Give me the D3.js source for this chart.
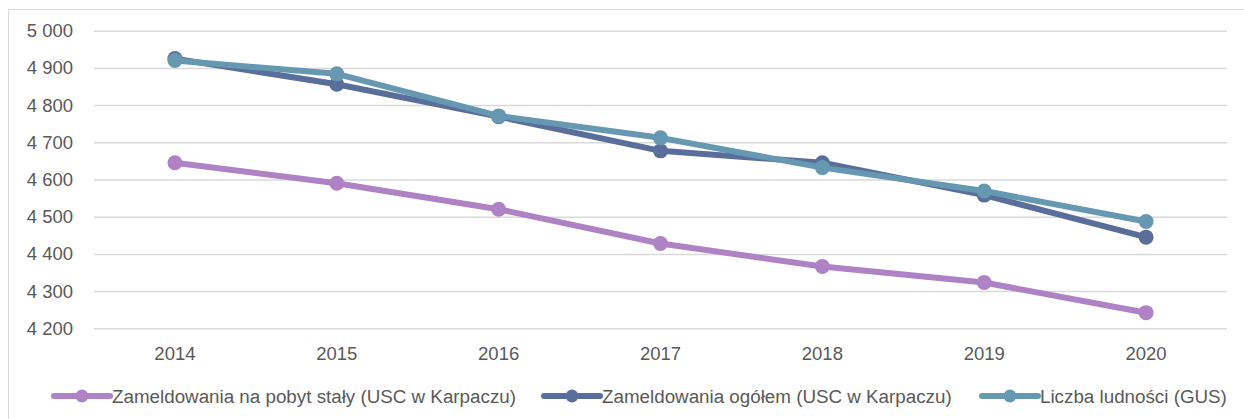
<!DOCTYPE html>
<html><head><meta charset="utf-8">
<script src="https://cdn.jsdelivr.net/npm/d3@7"></script>
<style>
body{margin:0;background:#fff;}
text{font-family:"Liberation Sans",Arial,sans-serif;fill:#595959;}
</style></head><body>
<svg id="c" width="1244" height="419"></svg>
<script>
const years = ["2014","2015","2016","2017","2018","2019","2020"];
const seriesNames = ["Zameldowania na pobyt stały (USC w Karpaczu)","Zameldowania ogółem (USC w Karpaczu)","Liczba ludności (GUS)"];
const stale = [4645, 4590, 4520, 4428, 4366, 4323, 4242];
const ogolem = [4925, 4856, 4769, 4677, 4645, 4558, 4445];
const ludnosc = [4920, 4884, 4771, 4712, 4632, 4569, 4487];
const yTicks = [4200, 4300, 4400, 4500, 4600, 4700, 4800, 4900, 5000];
const colors = ["#AE82C5", "#5A6E9B", "#6699B1"];

const svg = d3.select("#c");
svg.append("rect").attr("x",8.5).attr("y",9.5).attr("width",1250).attr("height",420)
  .attr("fill","none").attr("stroke","#D9D9D9").attr("stroke-width",1);

const x = d3.scaleBand().domain(years).range([94, 1227]).padding(0);
const y = d3.scaleLinear().domain([4200, 5000]).range([328.3, 30.7]);

const fmt = v => d3.format(",")(v).replace(",", " ");

const gy = svg.append("g").attr("transform","translate(94,0)")
  .call(d3.axisLeft(y).tickValues(yTicks).tickSize(-(1227-94)).tickPadding(21).tickFormat(fmt));
gy.select(".domain").remove();
gy.selectAll(".tick line").attr("stroke","#D9D9D9").attr("stroke-width",1.5);
gy.selectAll(".tick text").attr("font-size",18.5).attr("fill","#595959");

const gx = svg.append("g").attr("transform","translate(0,328.3)")
  .call(d3.axisBottom(x).tickSize(0).tickPadding(19));
gx.select(".domain").remove();
gx.selectAll(".tick text").attr("font-size",18.5).attr("fill","#595959");

const data = [stale, ogolem, ludnosc];
const line = d3.line().x((d,i)=>x(years[i])+x.bandwidth()/2).y(d=>y(d));
data.forEach((s,k)=>{
  const g = svg.append("g");
  g.append("path").datum(s).attr("d",line).attr("fill","none")
    .attr("stroke",colors[k]).attr("stroke-width",6).attr("stroke-linejoin","round");
  g.selectAll("circle").data(s).join("circle")
    .attr("cx",(d,i)=>x(years[i])+x.bandwidth()/2).attr("cy",d=>y(d)).attr("r",7.5)
    .attr("fill",colors[k]);
});

// legend
const legX = [54, 544, 982];
const leg = svg.append("g");
seriesNames.forEach((n,k)=>{
  const g = leg.append("g").attr("transform",`translate(${legX[k]},396)`);
  g.append("line").attr("x1",0).attr("x2",56).attr("y1",0).attr("y2",0)
    .attr("stroke",colors[k]).attr("stroke-width",6).attr("stroke-linecap","round");
  g.append("circle").attr("cx",28).attr("cy",0).attr("r",6.5).attr("fill",colors[k]);
  g.append("text").attr("x",58).attr("y",6.5).attr("font-size",18.8).text(n);
});
</script>
</body></html>
